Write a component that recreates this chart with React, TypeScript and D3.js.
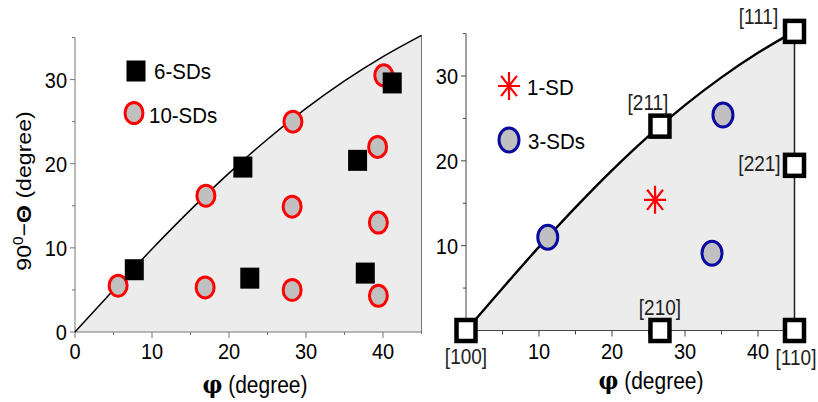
import React from "react";
import * as d3 from "d3";

// ---- data ----
const boundaryPhi = [0, 5, 10, 15, 20, 25, 30, 35, 40, 45];
const boundaryTheta = [0, 4.98, 9.86, 14.51, 18.88, 22.91, 26.57, 29.84, 32.73, 35.26];

const sd6Phi = [41.2, 21.8, 36.7, 7.7, 22.7, 37.7];
const sd6Theta = [29.6, 19.6, 20.4, 7.4, 6.4, 7.0];

const sd10Phi = [40.1, 28.3, 39.3, 17.0, 28.2, 39.4, 5.6, 16.9, 28.2, 39.4];
const sd10Theta = [30.5, 25.0, 22.0, 16.2, 14.9, 13.0, 5.5, 5.3, 5.0, 4.3];

const sd1Phi = [25.9];
const sd1Theta = [15.4];

const sd3Phi = [35.2, 11.2, 33.7];
const sd3Theta = [25.4, 11.0, 9.1];

const poleLabels = ["[100]", "[210]", "[110]", "[211]", "[221]", "[111]"];
const polePhi = [0, 26.57, 45, 26.57, 45, 45];
const poleTheta = [0, 0, 0, 24.09, 19.47, 35.26];

const xMajorTicks = [0, 10, 20, 30, 40];
const xMinorTicks = [5, 15, 25, 35];
const yMajorTicks = [0, 10, 20, 30];
const yMinorTicks = [5, 15, 25, 35];

const FONT = "'Liberation Sans', Arial, sans-serif";

function T({ x, y, size, anchor = "middle", sy = 1.12, fill = "#000", children, rotate = 0 }: any) {
  return (
    <text
      transform={`translate(${x},${y}) rotate(${rotate}) scale(1,${sy})`}
      fontSize={size}
      textAnchor={anchor}
      dy="0.36em"
      fill={fill}
      fontFamily={FONT}
    >
      {children}
    </text>
  );
}

const boundary = boundaryPhi.map((p, i) => [p, boundaryTheta[i]] as [number, number]);

function Star({ cx, cy, w, h, color }: any) {
  const d = [
    `M${cx - w},${cy}L${cx + w},${cy}`,
    `M${cx},${cy - h}L${cx},${cy + h}`,
    `M${cx - w * 0.72},${cy - h * 0.72}L${cx + w * 0.72},${cy + h * 0.72}`,
    `M${cx - w * 0.72},${cy + h * 0.72}L${cx + w * 0.72},${cy - h * 0.72}`,
  ].join("");
  return <path d={d} stroke={color} strokeWidth={2.2} fill="none" />;
}

function LeftPanel() {
  const x = d3.scaleLinear().domain([0, 45]).range([75, 421.5]);
  const y = d3.scaleLinear().domain([0, 35]).range([332, 37.5]);
  const area = d3
    .area<[number, number]>()
    .x((d) => x(d[0]))
    .y0(y(0))
    .y1((d) => y(d[1]));
  const line = d3
    .line<[number, number]>()
    .x((d) => x(d[0]))
    .y((d) => y(d[1]))
    .curve(d3.curveMonotoneX);
  const axisColor = "#777";
  return (
    <g>
      <path d={area.curve(d3.curveMonotoneX)(boundary) || ""} fill="#ececec" />
      {/* right border */}
      <line x1={x(45)} x2={x(45)} y1={y(35.26)} y2={y(0) + 2} stroke={axisColor} strokeWidth={1} />
      {/* x axis */}
      <line x1={x(0)} x2={x(45)} y1={y(0)} y2={y(0)} stroke={axisColor} strokeWidth={1} />
      {xMajorTicks.map((t) => (
        <line key={"xm" + t} x1={x(t)} x2={x(t)} y1={y(0)} y2={y(0) + 6} stroke={axisColor} />
      ))}
      {xMinorTicks.map((t) => (
        <line key={"xn" + t} x1={x(t)} x2={x(t)} y1={y(0)} y2={y(0) + 3} stroke={axisColor} />
      ))}
      {xMajorTicks.map((t) => (
        <T key={"xl" + t} x={x(t)} y={351} size={20}>
          {t}
        </T>
      ))}
      {/* y axis */}
      <line x1={x(0)} x2={x(0)} y1={y(35)} y2={y(0)} stroke={axisColor} strokeWidth={1} />
      {yMajorTicks.map((t) => (
        <line key={"ym" + t} x1={x(0) - 5} x2={x(0)} y1={y(t)} y2={y(t)} stroke={axisColor} />
      ))}
      {yMinorTicks.map((t) => (
        <line key={"yn" + t} x1={x(0) - 3} x2={x(0)} y1={y(t)} y2={y(t)} stroke={axisColor} />
      ))}
      {yMajorTicks.map((t) => (
        <T key={"yl" + t} x={x(0) - 8} y={y(t)} size={20} anchor="end">
          {t}
        </T>
      ))}
      {/* boundary curve */}
      <path d={line(boundary) || ""} fill="none" stroke="#000" strokeWidth={1.5} />
      {/* 10-SDs */}
      {sd10Phi.map((p, i) => (
        <ellipse key={"c" + i} cx={x(p)} cy={y(sd10Theta[i])} rx={9} ry={10.5} fill="#c0c0c0" stroke="#ff0000" strokeWidth={3} />
      ))}
      {/* 6-SDs */}
      {sd6Phi.map((p, i) => (
        <rect key={"s" + i} x={x(p) - 9.5} y={y(sd6Theta[i]) - 10.5} width={19} height={21} fill="#000" />
      ))}
      {/* legend */}
      <rect x={136 - 9.5} y={71 - 10.5} width={19} height={21} fill="#000" />
      <T x={154} y={70.5} size={20.5} anchor="start">6-SDs</T>
      <ellipse cx={134} cy={113} rx={9} ry={10.5} fill="#c0c0c0" stroke="#ff0000" strokeWidth={3} />
      <T x={149} y={115} size={20.5} anchor="start">10-SDs</T>
      {/* titles */}
      <text
        transform={`translate(255,385) scale(1,1.1)`}
        textAnchor="middle"
        dy="0.36em"
        fontFamily={FONT}
        fontSize={21}
      >
        <tspan fontFamily="'DejaVu Serif', serif" fontWeight="bold" fontSize={22}>φ</tspan>
        <tspan> (degree)</tspan>
      </text>
      <text
        transform={`translate(23,191) rotate(-90) scale(1.1,1)`}
        textAnchor="middle"
        dy="0.36em"
        fontFamily={FONT}
        fontSize={21}
      >
        <tspan>90</tspan>
        <tspan fontSize={14} dy="-8">0</tspan>
        <tspan dy="8">−</tspan>
        <tspan fontWeight="bold">Θ</tspan>
        <tspan> (degree)</tspan>
      </text>
    </g>
  );
}

function RightPanel() {
  const x = d3.scaleLinear().domain([0, 45]).range([466, 794.5]);
  const y = d3.scaleLinear().domain([0, 35]).range([330.5, 33.6]);
  const area = d3
    .area<[number, number]>()
    .x((d) => x(d[0]))
    .y0(y(0))
    .y1((d) => y(d[1]))
    .curve(d3.curveMonotoneX);
  const line = d3
    .line<[number, number]>()
    .x((d) => x(d[0]))
    .y((d) => y(d[1]))
    .curve(d3.curveMonotoneX);
  const axisColor = "#444";
  const labelOffsets: Record<string, [number, number]> = {
    "[100]": [0, 26],
    "[210]": [0, -23],
    "[110]": [1.5, 27],
    "[211]": [-12, -24],
    "[221]": [-35, -2],
    "[111]": [-36, -15],
  };
  return (
    <g>
      <path d={area(boundary) || ""} fill="#ececec" />
      {/* x axis */}
      <line x1={x(0)} x2={x(45)} y1={y(0)} y2={y(0)} stroke={axisColor} strokeWidth={1} />
      {xMajorTicks.slice(1).map((t) => (
        <line key={"xm" + t} x1={x(t)} x2={x(t)} y1={y(0)} y2={y(0) + 6} stroke={axisColor} />
      ))}
      {xMinorTicks.map((t) => (
        <line key={"xn" + t} x1={x(t)} x2={x(t)} y1={y(0)} y2={y(0) + 4} stroke={axisColor} />
      ))}
      {xMajorTicks.slice(1).map((t) => (
        <T key={"xl" + t} x={x(t)} y={351} size={20}>
          {t}
        </T>
      ))}
      {/* y axis */}
      <line x1={x(0)} x2={x(0)} y1={y(35)} y2={y(0)} stroke={axisColor} strokeWidth={1} />
      {yMajorTicks.slice(1).map((t) => (
        <line key={"ym" + t} x1={x(0) - 5} x2={x(0)} y1={y(t)} y2={y(t)} stroke={axisColor} />
      ))}
      {yMinorTicks.map((t) => (
        <line key={"yn" + t} x1={x(0) - 3} x2={x(0)} y1={y(t)} y2={y(t)} stroke={axisColor} />
      ))}
      {yMajorTicks.slice(1).map((t) => (
        <T key={"yl" + t} x={x(0) - 8} y={y(t)} size={20} anchor="end">
          {t}
        </T>
      ))}
      {/* right edge [110]-[111] */}
      <line x1={x(45)} x2={x(45)} y1={y(35.26)} y2={y(0)} stroke="#222" strokeWidth={1.5} />
      {/* boundary curve */}
      <path d={line(boundary) || ""} fill="none" stroke="#000" strokeWidth={2.4} />
      {/* 1-SD */}
      {sd1Phi.map((p, i) => (
        <Star key={"st" + i} cx={x(p)} cy={y(sd1Theta[i])} w={11} h={14} color="#ff0000" />
      ))}
      {/* 3-SDs */}
      {sd3Phi.map((p, i) => (
        <ellipse key={"e" + i} cx={x(p)} cy={y(sd3Theta[i])} rx={10} ry={12} fill="#c0c0c0" stroke="#0a0aa0" strokeWidth={3} />
      ))}
      {/* poles */}
      {polePhi.map((p, i) => (
        <rect key={"p" + i} x={x(p) - 9.5} y={y(poleTheta[i]) - 10.5} width={19} height={21} fill="#fff" stroke="#000" strokeWidth={4.5} />
      ))}
      {poleLabels.map((l, i) => (
        <T
          key={"pl" + i}
          x={x(polePhi[i]) + labelOffsets[l][0]}
          y={y(poleTheta[i]) + labelOffsets[l][1]}
          size={19}
          sy={1.15}
          fill="#222"
        >
          {l}
        </T>
      ))}
      {/* legend */}
      <Star cx={509} cy={86} w={11} h={14} color="#ff0000" />
      <T x={527} y={86.5} size={20.5} anchor="start">1-SD</T>
      <ellipse cx={509} cy={140} rx={10} ry={12} fill="#c0c0c0" stroke="#0a0aa0" strokeWidth={3} />
      <T x={528} y={141} size={20.5} anchor="start">3-SDs</T>
      {/* title */}
      <text
        transform={`translate(651,381) scale(1,1.1)`}
        textAnchor="middle"
        dy="0.36em"
        fontFamily={FONT}
        fontSize={21}
      >
        <tspan fontFamily="'DejaVu Serif', serif" fontWeight="bold" fontSize={22}>φ</tspan>
        <tspan> (degree)</tspan>
      </text>
    </g>
  );
}

export default function App() {
  return (
    <div style={{ position: "absolute", left: 0, top: 0 }}>
      <svg width={818} height={402} style={{ display: "block", background: "#fff" }}>
        <LeftPanel />
        <RightPanel />
      </svg>
    </div>
  );
}
